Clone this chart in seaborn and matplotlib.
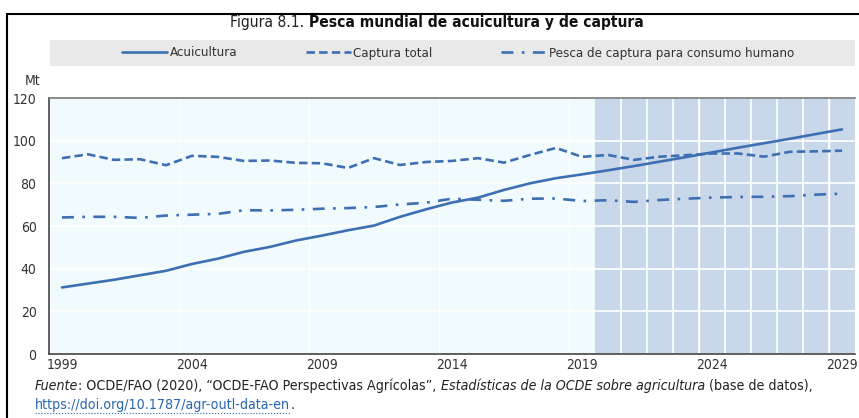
import matplotlib.pyplot as plt
import matplotlib.patches as mpatches
import matplotlib.lines as mlines
import pandas as pd
import seaborn as sns

# Data (Mt), one value per year 1999-2029
years = list(range(1999, 2030))
acuicultura = [31.2, 33.0, 34.8, 36.9, 39.0, 42.2, 44.7, 47.9, 50.2, 53.2, 55.5,
               58.0, 60.2, 64.3, 67.8, 71.0, 73.3, 76.9, 80.0, 82.4, 84.2,
               86.1, 88.1, 90.2, 92.3, 94.5, 96.7, 98.8, 100.9, 103.1, 105.3]
captura_total = [91.8, 93.6, 91.0, 91.3, 88.5, 92.9, 92.4, 90.5, 90.7, 89.6, 89.4,
                 87.2, 91.8, 88.6, 90.0, 90.5, 91.8, 89.7, 93.3, 96.6, 92.4,
                 93.3, 91.0, 92.5, 93.2, 94.0, 94.0, 92.5, 94.8, 95.0, 95.3]
consumo_humano = [64.0, 64.3, 64.3, 63.8, 64.9, 65.3, 65.7, 67.4, 67.3, 67.6, 68.1,
                  68.4, 68.9, 70.1, 70.9, 72.8, 72.3, 71.8, 72.8, 72.9, 71.7,
                  72.1, 71.3, 72.2, 72.8, 73.3, 73.6, 73.7, 74.0, 74.7, 75.2]
series_names = ['Acuicultura', 'Captura total', 'Pesca de captura para consumo humano']
tick_years = [1999, 2004, 2009, 2014, 2019, 2024, 2029]
y_ticks = [0, 20, 40, 60, 80, 100, 120]
proj_start = 2020

df = pd.DataFrame({'year': years,
                   series_names[0]: acuicultura,
                   series_names[1]: captura_total,
                   series_names[2]: consumo_humano})
df = df.melt(id_vars='year', var_name='serie', value_name='valor')
df['x'] = df['year'] + 0.5  # categories centred between boundaries

sns.set_style('white')
plt.rcParams['font.family'] = ['DejaVu Sans']
plt.rcParams['font.stretch'] = 'condensed'

line_color = '#3e6fb3'
dash_styles = {series_names[0]: '', series_names[1]: (3.2, 1.6),
               series_names[2]: (4.5, 3.2, 1.0, 3.2)}

fig = plt.figure(figsize=(8.59, 4.18), dpi=100)
ax = fig.add_axes([49 / 859, 1 - 354 / 418, 806 / 859, 256 / 418])

ax.set_facecolor('#f1fbfe')
ax.axvspan(proj_start, 2030, color='#c9d7ea', zorder=0.2, lw=0)
for yr in range(proj_start + 1, 2030):
    ax.axvline(yr, color='white', lw=1.2, zorder=0.6)

sns.lineplot(data=df, x='x', y='valor', hue='serie', style='serie',
             palette=[line_color] * 3, dashes=dash_styles, linewidth=1.9,
             ax=ax, legend=False, zorder=3)

ax.set_xlim(1999, 2030)
ax.set_ylim(0, 120)
ax.set_axisbelow(True)
ax.set_xticks(tick_years)
ax.set_xticklabels([])
ax.set_xticks([y + 0.5 for y in tick_years], minor=True)
ax.set_xticklabels([str(y) for y in tick_years], minor=True, fontsize=10, color='#333333')
ax.tick_params(axis='x', which='major', direction='in', length=4, color='#444444', width=1)
ax.tick_params(axis='x', which='minor', length=0, pad=3)
ax.set_yticks(y_ticks)
ax.set_yticklabels([str(v) for v in y_ticks], fontsize=10, color='#333333')
ax.tick_params(axis='y', direction='in', length=3, color='#444444', pad=9)
ax.grid(axis='y', color='white', lw=1.2)
ax.grid(axis='x', which='major', color='white', lw=1.0)
ax.set_xlabel('')
ax.set_ylabel('')

for side in ['left', 'bottom']:
    ax.spines[side].set_color('#444444')
    ax.spines[side].set_linewidth(1.2)
ax.spines['top'].set_color('#777777')
ax.spines['top'].set_linewidth(1.2)
ax.spines['right'].set_visible(False)

fig.text(33 / 859, 1 - 81 / 418, 'Mt', ha='center', va='center', fontsize=10, color='#333333')

# outer frame
fig.add_artist(mlines.Line2D([7 / 859, 7 / 859], [0, 1 - 14 / 418], color='black', lw=1.5))
fig.add_artist(mlines.Line2D([7 / 859, 1], [1 - 14 / 418, 1 - 14 / 418], color='black', lw=1.5))

renderer = fig.canvas.get_renderer()


def draw_runs(x, y, runs, size):
    for s, style, weight, color in runs:
        t = fig.text(x, y, s, style=style, fontweight=weight, color=color,
                     fontsize=size, ha='left', va='baseline')
        bb = t.get_window_extent(renderer)
        x = bb.x1 / fig.bbox.width
    return x


# title, centred as a whole
title_runs = [('Figura 8.1. ', 'normal', 'normal', '#222222'),
              ('Pesca mundial de acuicultura y de captura', 'normal', 'bold', '#111111')]
probe = draw_runs(0, -1, title_runs, 11.2)
for t in list(fig.texts):
    if t.get_position()[1] == -1:
        t.remove()
draw_runs(437 / 859 - probe / 2, 1 - 27 / 418, title_runs, 11.2)

# legend band
fig.add_artist(mpatches.Rectangle((50 / 859, 1 - 66 / 418), 805 / 859, 26 / 418,
                                  transform=fig.transFigure, color='#e9e9e9', lw=0, zorder=0))
handles = [mlines.Line2D([], [], color=line_color, lw=1.9, dashes=dash_styles[n]) if dash_styles[n]
           else mlines.Line2D([], [], color=line_color, lw=1.9) for n in series_names]
fig.legend(handles, series_names, loc='center', bbox_to_anchor=(458 / 859, 1 - 53 / 418),
           ncol=3, frameon=False, fontsize=9.5, handlelength=3.4, handletextpad=0.2,
           columnspacing=5.2, labelcolor='#333333')

# source note, drawn run by run
black = '#222222'
draw_runs(35 / 859, 1 - 390 / 418, [
    ('Fuente', 'italic', 'normal', black),
    (': OCDE/FAO (2020), \u201cOCDE-FAO Perspectivas Agrícolas\u201d, ', 'normal', 'normal', black),
    ('Estadísticas de la OCDE sobre agricultura', 'italic', 'normal', black),
    (' (base de datos),', 'normal', 'normal', black),
], 10.2)
x_url0 = 35 / 859
x_url1 = draw_runs(x_url0, 1 - 409 / 418,
                   [('https://doi.org/10.1787/agr-outl-data-en', 'normal', 'normal', '#2a66b0')], 10.2)
draw_runs(x_url1, 1 - 409 / 418, [('.', 'normal', 'normal', black)], 10.2)
fig.add_artist(mlines.Line2D([x_url0, x_url1], [1 - 413 / 418] * 2, color='#2a66b0', lw=0.8, ls=':'))

fig.savefig('out.png', dpi=100)
